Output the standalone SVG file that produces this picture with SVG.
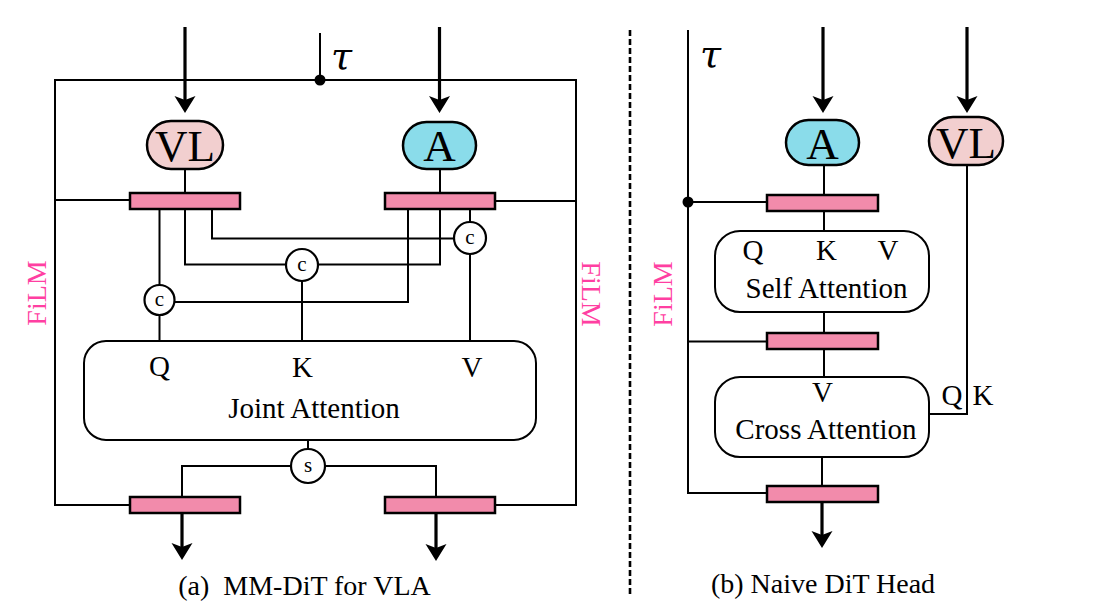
<svg xmlns="http://www.w3.org/2000/svg" width="1097" height="610" viewBox="0 0 1097 610">
<style>
.ln{fill:none;stroke:#000;stroke-width:2}
.thick{fill:none;stroke:#000;stroke-width:3.2}
.bar{fill:#f28bab;stroke:#000;stroke-width:2.5}
.vl{fill:#f2cfcf;stroke:#000;stroke-width:2.5}
.a{fill:#8adcea;stroke:#000;stroke-width:2.5}
.box{fill:#fff;stroke:#000;stroke-width:2}
.circ{fill:#fff;stroke:#000;stroke-width:2.2}
.t{font-family:"Liberation Serif","Times New Roman",serif;fill:#000}
.big{font-size:45px}
.mid{font-size:29px}
.cap{font-size:28px}
.sm{font-size:21px}
.film{font-family:"Liberation Serif","Times New Roman",serif;font-size:28px;fill:#ff3fa2}
.tau{font-family:"DejaVu Serif",serif;font-style:italic;font-size:38px;fill:#000}
</style>
<defs>
<marker id="ah" viewBox="0 -11 18 22" markerWidth="18" markerHeight="22" refX="5" refY="0" orient="auto" markerUnits="userSpaceOnUse">
<path d="M0,-10.5 L17,0 L0,10.5 L4,0 Z" fill="#000"/>
</marker>
</defs>
<rect width="1097" height="610" fill="#fff"/>

<!-- Connectors -->
<g id="connectors">
<!-- left panel outer frame -->
<path class="ln" d="M130,505 H55 V80 H576 V505 H495"/>
<path class="ln" d="M55,200 H130"/>
<path class="ln" d="M495,201 H576"/>
<path class="ln" d="M320,33 V80"/>
<circle cx="320" cy="80" r="5.5" fill="#000"/>
<!-- input arrows -->
<path class="thick" d="M185,27 V101" marker-end="url(#ah)"/>
<path class="thick" d="M439.5,27 V101" marker-end="url(#ah)"/>
<path class="ln" d="M185,169 V193"/>
<path class="ln" d="M440,169 V193"/>
<!-- concat wiring -->
<path class="ln" d="M159.5,209 V285"/>
<path class="ln" d="M159.5,315 V341"/>
<path class="ln" d="M185,209 V264.5 H286"/>
<path class="ln" d="M318,264.5 H440 V209"/>
<path class="ln" d="M302,281 V341"/>
<path class="ln" d="M212,209 V238.5 H454"/>
<path class="ln" d="M470,209 V222"/>
<path class="ln" d="M470,254 V341"/>
<path class="ln" d="M408,209 V302 H175"/>
<!-- split -->
<path class="ln" d="M308,440 V449"/>
<path class="ln" d="M291,466 H182 V497"/>
<path class="ln" d="M325,466 H436 V497"/>
<path class="thick" d="M182,513 V548" marker-end="url(#ah)"/>
<path class="thick" d="M436,513 V549" marker-end="url(#ah)"/>

<!-- divider -->
<path d="M630,30 V597" fill="none" stroke="#000" stroke-width="2.6" stroke-dasharray="6 3"/>

<!-- right panel -->
<path class="ln" d="M688,30 V493 H767"/>
<path class="ln" d="M688,202 H767"/>
<path class="ln" d="M688,341.5 H767"/>
<circle cx="688" cy="202" r="5.5" fill="#000"/>
<path class="thick" d="M823,27 V101" marker-end="url(#ah)"/>
<path class="thick" d="M967,27 V101" marker-end="url(#ah)"/>
<path class="ln" d="M824,165 V195"/>
<path class="ln" d="M824,211 V231"/>
<path class="ln" d="M824,312 V333"/>
<path class="ln" d="M824,349 V377"/>
<path class="ln" d="M967,165 V414 H929"/>
<path class="ln" d="M822,457 V486"/>
<path class="thick" d="M822,502 V536" marker-end="url(#ah)"/>
</g>

<!-- Left panel nodes -->
<g id="tau-left"><text class="tau" x="331" y="69">τ</text></g>
<g id="vl-left"><rect class="vl" x="147" y="121" width="76" height="48" rx="24"/><text class="t big" x="185" y="161" text-anchor="middle">VL</text></g>
<g id="a-left"><rect class="a" x="403" y="122" width="73" height="47" rx="23.5"/><text class="t big" x="439.5" y="161" text-anchor="middle">A</text></g>
<g id="film-vl-in"><rect class="bar" x="130" y="193" width="110" height="16"/></g>
<g id="film-a-in"><rect class="bar" x="385" y="193" width="110" height="16"/></g>
<g id="concat-q"><circle class="circ" cx="159.5" cy="300" r="15"/><text class="t sm" x="159.5" y="306" text-anchor="middle">c</text></g>
<g id="concat-k"><circle class="circ" cx="302" cy="265" r="16"/><text class="t sm" x="302" y="271" text-anchor="middle">c</text></g>
<g id="concat-v"><circle class="circ" cx="470" cy="238" r="16"/><text class="t sm" x="470" y="244" text-anchor="middle">c</text></g>
<g id="joint-attention">
<rect class="box" x="84" y="341" width="452" height="99" rx="22"/>
<text class="t mid" x="159.5" y="376" text-anchor="middle">Q</text>
<text class="t mid" x="302.5" y="377" text-anchor="middle">K</text>
<text class="t mid" x="472" y="377" text-anchor="middle">V</text>
<text class="t mid" x="314" y="418" text-anchor="middle">Joint Attention</text>
</g>
<g id="split"><circle class="circ" cx="308" cy="466" r="17"/><text class="t sm" x="308" y="472" text-anchor="middle">s</text></g>
<g id="film-vl-out"><rect class="bar" x="130" y="497" width="110" height="16"/></g>
<g id="film-a-out"><rect class="bar" x="385" y="497" width="110" height="16"/></g>
<g id="film-labels-left">
<text class="film" transform="translate(45.5,293) rotate(-90)" text-anchor="middle">FiLM</text>
<text class="film" transform="translate(582,294) rotate(90)" text-anchor="middle">FiLM</text>
</g>
<g id="caption-a"><text class="t cap" x="304.5" y="595" text-anchor="middle" xml:space="preserve">(a)  MM-DiT for VLA</text></g>

<!-- Right panel nodes -->
<g id="tau-right"><text class="tau" x="700" y="67">τ</text></g>
<g id="a-right"><rect class="a" x="786" y="120" width="73" height="45" rx="22.5"/><text class="t big" x="822.5" y="159" text-anchor="middle">A</text></g>
<g id="vl-right"><rect class="vl" x="929" y="117" width="74" height="48" rx="24"/><text class="t big" x="966" y="158" text-anchor="middle">VL</text></g>
<g id="film-1"><rect class="bar" x="767" y="195" width="111" height="16"/></g>
<g id="self-attention">
<rect class="box" x="715" y="231" width="214" height="81" rx="25"/>
<text class="t mid" x="753" y="260" text-anchor="middle">Q</text>
<text class="t mid" x="826.5" y="260" text-anchor="middle">K</text>
<text class="t mid" x="888" y="260" text-anchor="middle">V</text>
<text class="t mid" x="826.5" y="298" text-anchor="middle">Self Attention</text>
</g>
<g id="film-2"><rect class="bar" x="767" y="333" width="111" height="16"/></g>
<g id="cross-attention">
<rect class="box" x="715" y="377" width="214" height="80" rx="25"/>
<text class="t mid" x="822.5" y="402" text-anchor="middle">V</text>
<text class="t mid" x="826" y="439" text-anchor="middle">Cross Attention</text>
</g>
<g id="qk-labels">
<text class="t mid" x="952" y="405" text-anchor="middle">Q</text>
<text class="t mid" x="983" y="405" text-anchor="middle">K</text>
</g>
<g id="film-3"><rect class="bar" x="767" y="486" width="111" height="16"/></g>
<g id="film-label-right"><text class="film" transform="translate(672,294) rotate(-90)" text-anchor="middle">FiLM</text></g>
<g id="caption-b"><text class="t cap" x="823" y="593" text-anchor="middle">(b) Naive DiT Head</text></g>
</svg>
